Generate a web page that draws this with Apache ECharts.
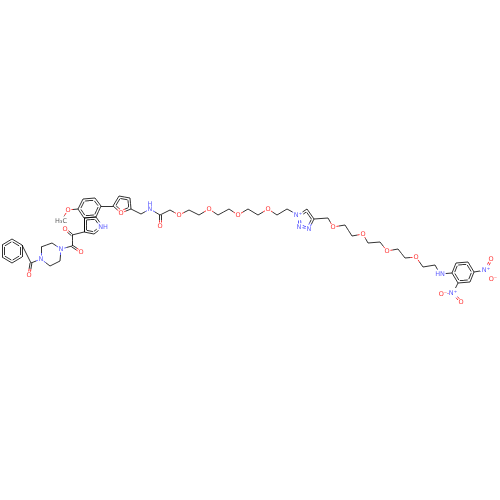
<!DOCTYPE html>
<html>
<head>
<meta charset="utf-8">
<style>html,body{margin:0;background:#fff}#chart{width:500px;height:500px}</style>
<script src="https://cdn.jsdelivr.net/npm/echarts@6/dist/echarts.min.js"></script>
</head>
<body>
<div id="chart"></div>
<script>
// atoms: position, text only for hetero atoms
const atomX = [2,12,22,22,12,2,31,29,41,41,52,61,60,50,72,81,72,65,84,94,103,96,84,83,95,101,78,68,61,
  113,119,130,131,121,141,150,160,160,170,179,189,199,209,218,229,238,248,258,268,277,287,298,307,314,309,299,
  328,333,345,352,363,368,380,387,398,405,416,423,435,440,452,456,468,474,470,458,486,491,493,453,443,461];
const atomY = [245,239,245,257,263,257,263,275,259,247,243,249,261,266,246,252,235,229,232,234,227,217,218,199,198,206,209,210,221,
  206,196,198,209,213,214,209,215,226,210,215,210,215,209,215,209,215,209,215,209,215,209,215,209,219,229,227,
  218,227,225,236,234,243,242,251,249,258,257,267,265,274,273,263,262,272,282,283,270,259,279,293,294,302];
const atomText = {7:'O',8:'N',11:'N',15:'O',17:'O',20:'NH',27:'O',28:'H₃C',33:'O',35:'N',37:'O',39:'O',42:'O',45:'O',48:'O',
  51:'N⁺',54:'N',55:'N',57:'O',60:'O',63:'O',66:'O',69:'HN',76:'N⁺',77:'O',78:'O⁻',79:'N⁺',80:'O⁻',81:'O'};
const extraText = [[150,204,'H','#3333ff']];

const singleBonds = [[2,6],[6,8],[8,9],[9,10],[10,11],[11,12],[12,13],[13,8],[11,14],[14,16],[16,18],[22,18],
  [26,27],[27,28],[25,29],[32,34],[34,35],[35,36],[36,38],[38,39],[39,40],[40,41],[41,42],[42,43],[43,44],[44,45],
  [45,46],[46,47],[47,48],[48,49],[49,50],[50,51],[53,56],[56,57],[57,58],[58,59],[59,60],[60,61],[61,62],[62,63],
  [63,64],[64,65],[65,66],[66,67],[67,68],[68,69],[69,70],[73,76],[75,79],[76,78],[79,80]];
const doubleBonds = [[6,7],[14,15],[16,17],[36,37],[76,77],[79,81]];
// aromatic rings, drawn with an inner line on each edge
const rings = [[0,1,2,3,4,5],[22,26,23,24,25,21],[18,19,20,21,22],[29,30,31,32,33],[51,52,53,54,55],[70,71,72,73,74,75]];

function colorOf(i) {
  const t = atomText[i];
  if (!t) return '#000000';
  if (t.includes('O')) return '#ff0000';
  if (t.includes('N')) return '#3333ff';
  return '#333333';
}

// ---- 键 → 线段 ----
const segments = [];
function addBond(a, b, offX, offY, trim) {
  let x1 = atomX[a] + offX, y1 = atomY[a] + offY, x2 = atomX[b] + offX, y2 = atomY[b] + offY;
  const len = Math.hypot(x2 - x1, y2 - y1);
  const ux = (x2 - x1) / len, uy = (y2 - y1) / len;
  const gapA = atomText[a] ? (atomText[a].length > 1 ? 5.5 : 3.5) : (trim || 0);
  const gapB = atomText[b] ? (atomText[b].length > 1 ? 5.5 : 3.5) : (trim || 0);
  x1 += ux * gapA; y1 += uy * gapA; x2 -= ux * gapB; y2 -= uy * gapB;
  const mx = (atomX[a] + atomX[b]) / 2 + offX, my = (atomY[a] + atomY[b]) / 2 + offY;
  segments.push({ coords: [[x1, y1], [mx, my]], lineStyle: { color: colorOf(a) } });
  segments.push({ coords: [[mx, my], [x2, y2]], lineStyle: { color: colorOf(b) } });
}
singleBonds.forEach(([a, b]) => addBond(a, b, 0, 0));
doubleBonds.forEach(([a, b]) => {
  const len = Math.hypot(atomX[b] - atomX[a], atomY[b] - atomY[a]);
  const nx = -(atomY[b] - atomY[a]) / len * 0.9, ny = (atomX[b] - atomX[a]) / len * 0.9;
  addBond(a, b, nx, ny);
  addBond(a, b, -nx, -ny);
});
rings.forEach((ring) => {
  const cx = ring.reduce((s, i) => s + atomX[i], 0) / ring.length;
  const cy = ring.reduce((s, i) => s + atomY[i], 0) / ring.length;
  ring.forEach((a, k) => {
    const b = ring[(k + 1) % ring.length];
    addBond(a, b, 0, 0);
    // 内圈：朝环心缩
    const mx = (atomX[a] + atomX[b]) / 2, my = (atomY[a] + atomY[b]) / 2;
    const d = Math.hypot(cx - mx, cy - my);
    addBond(a, b, (cx - mx) / d * 2.2, (cy - my) / d * 2.2, 2);
  });
});

const labels = Object.keys(atomText).map((i) => ({ value: [atomX[i], atomY[i]], name: atomText[i], color: colorOf(+i) }));
extraText.forEach(([x, y, t, c]) => labels.push({ value: [x, y], name: t, color: c }));

const chart = echarts.init(document.getElementById('chart'));
chart.setOption({
  animation: false,
  backgroundColor: '#ffffff',
  grid: { left: 0, right: 0, top: 0, bottom: 0 },
  xAxis: { type: 'value', min: 0, max: 500, show: false },
  yAxis: { type: 'value', min: 0, max: 500, inverse: true, show: false },
  series: [
    { type: 'lines', coordinateSystem: 'cartesian2d', polyline: false, silent: true,
      lineStyle: { width: 0.8, opacity: 1 }, data: segments },
    { type: 'scatter', symbolSize: 0, silent: true,
      data: labels.map((d) => ({
        value: d.value,
        label: { show: true, position: 'inside', formatter: d.name, color: d.color,
          fontSize: 6.5, fontFamily: 'DejaVu Sans' },
      })) },
  ],
});
</script>
</body>
</html>
